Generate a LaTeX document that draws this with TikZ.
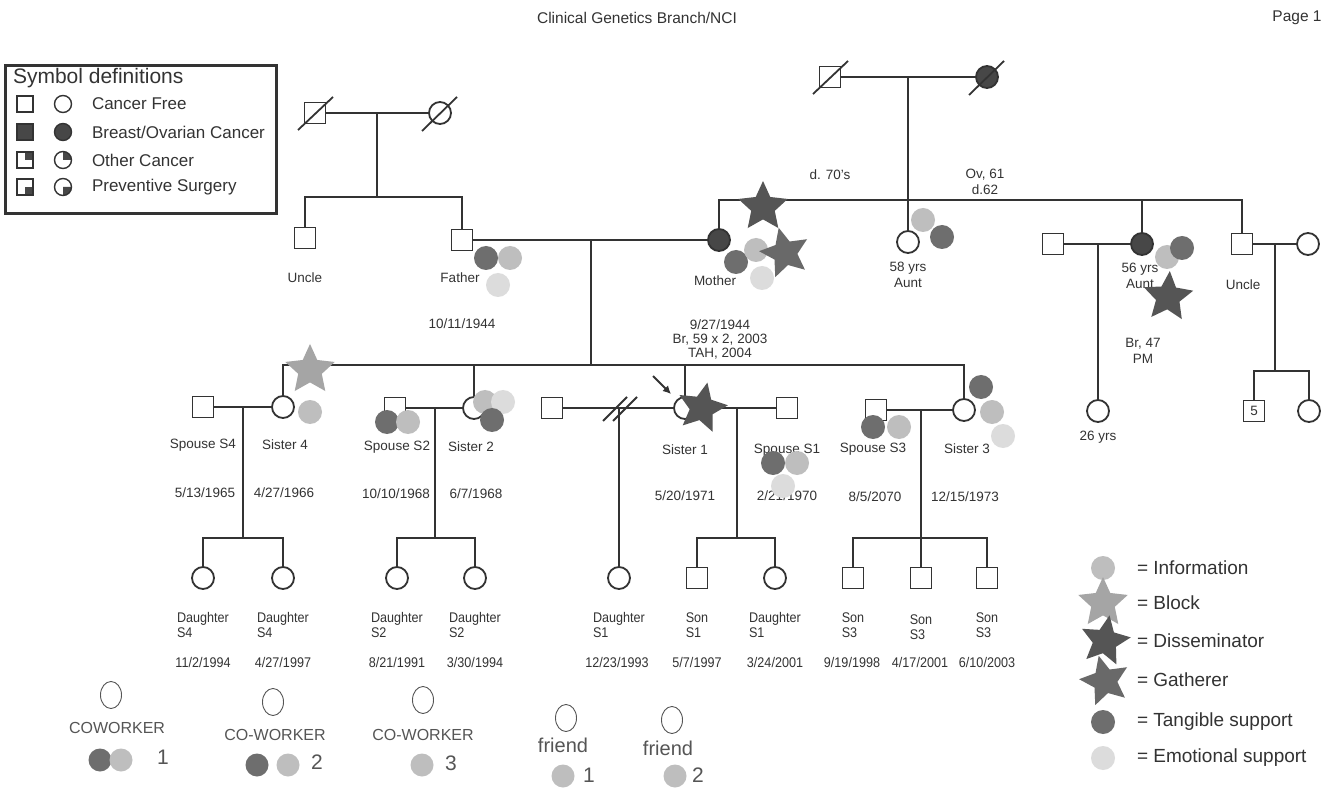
\documentclass[tikz,border=0pt]{standalone}
\usepackage{fontspec}
\setmainfont{Liberation Sans}
\newfontfamily\narrowfont[FakeStretch=0.9]{Liberation Sans}
\usetikzlibrary{shapes.geometric,arrows.meta}
\definecolor{ink}{HTML}{333333}
\definecolor{tang}{HTML}{6E6E6E}
\definecolor{infoc}{HTML}{BEBEBE}
\definecolor{emot}{HTML}{DCDCDC}
\definecolor{blockc}{HTML}{A5A5A5}
\definecolor{dissc}{HTML}{555555}
\definecolor{gathc}{HTML}{696969}
\definecolor{affc}{HTML}{474747}
\definecolor{handc}{HTML}{555555}
\begin{document}
\begin{tikzpicture}[x=1pt,y=-1pt,
  every node/.style={inner sep=0pt,outer sep=0pt},
  pline/.style={draw=ink,line width=1.4pt},
  male/.style={rectangle,draw=ink,line width=1.8pt,minimum size=21pt,fill=white},
  female/.style={circle,draw=ink,line width=1.8pt,minimum size=22pt,fill=white},
  aff/.style={fill=affc},
  dslash/.style={draw=ink,line width=1.8pt},
  lbl/.style={font=\fontsize{13.5}{15.5}\selectfont,text=ink,align=center},
  kidlbl/.style={font=\narrowfont\fontsize{14}{15}\selectfont,text=ink,align=left},
  kiddate/.style={font=\narrowfont\fontsize{14}{16}\selectfont,text=ink},
  dot/.style={circle,minimum size=24pt,draw=none},
  tdot/.style={dot,fill=tang},
  idot/.style={dot,fill=infoc},
  edot/.style={dot,fill=emot},
  bigstar/.style={star,star points=5,star point ratio=2.1,minimum size=52pt,draw=none},
  blockstar/.style={bigstar,fill=blockc},
  dissstar/.style={bigstar,fill=dissc},
  gathstar/.style={bigstar,fill=gathc},
  legsq/.style={rectangle,draw=ink,line width=1.4pt,minimum size=16pt},
  legci/.style={circle,draw=ink,line width=1.4pt,minimum size=17pt},
  legtxt/.style={anchor=west,font=\fontsize{17}{19}\selectfont,text=ink},
  keytxt/.style={anchor=west,font=\fontsize{19}{21}\selectfont,text=ink},
  handO/.style={ellipse,draw=handc,line width=0.9pt,minimum width=21pt,minimum height=27pt},
  handtxt/.style={font=\fontsize{16}{18}\selectfont,text=handc},
  handnum/.style={font=\fontsize{21}{23}\selectfont,text=handc}
]
\fill[white] (0,0) rectangle (1333,791);
\path[use as bounding box] (0,0) rectangle (1333,791);

% header
\node[font=\fontsize{15.5}{17}\selectfont,text=ink] (hdr) at (637,18) {Clinical Genetics Branch/NCI};
\node[font=\fontsize{15.5}{17}\selectfont,text=ink] (pg) at (1297,18) {Page 1};

% symbol definitions box
\node[draw=ink,line width=3pt,minimum width=271pt,minimum height=148pt] (legbox) at (141,140) {};
\node[anchor=west,font=\fontsize{21}{23}\selectfont,text=ink] (legtitle) at (13,78) {Symbol definitions};
\node[legsq] (lq1) at (25,104) {};
\node[legci] (lc1) at (63,104) {};
\node[legtxt] (lt1) at (92,104) {Cancer Free};
\node[legsq,fill=affc] (lq2) at (25,132) {};
\node[legci,fill=affc] (lc2) at (63,132) {};
\node[legtxt] (lt2) at (92,132) {Breast/Ovarian Cancer};
\fill[affc] (25,152) rectangle (33,160);
\node[legsq] (lq3) at (25,160) {};
\fill[affc] (63,160) -- ++(8.5,0) arc[start angle=0,end angle=-90,radius=8.5] -- cycle;
\node[legci] (lc3) at (63,160) {};
\node[legtxt] (lt3) at (92,160) {Other Cancer};
\fill[affc] (25,187) rectangle (33,195);
\node[legsq] (lq4) at (25,187) {};
\fill[affc] (63,187) -- ++(8.5,0) arc[start angle=0,end angle=90,radius=8.5] -- cycle;
\node[legci] (lc4) at (63,187) {};
\node[legtxt] (lt4) at (92,187) {Preventive Surgery};

% ---------- persons ----------
% paternal grandparents
\node[male] (pgf) at (315,113) {};
\node[female] (pgm) at (440,113) {};
\node[male] (u1) at (305,238) {};
\node[male] (fa) at (462,240) {};
% maternal grandparents
\node[male] (mgf) at (830,77) {};
\node[female,aff] (mgm) at (987,77) {};
\node[female,aff] (mo) at (719,240) {};
\node[female] (a58) at (908,242) {};
\node[male] (h56) at (1053,244) {};
\node[female,aff] (a56) at (1142,244) {};
\node[male] (u2) at (1242,244) {};
\node[female] (w2) at (1308,244) {};
\node[female] (c26) at (1098,411) {};
\node[male,font=\fontsize{13.5}{15}\selectfont,text=ink] (ch5) at (1254,411) {5};
\node[female] (chf) at (1309,411) {};
% sibship III
\node[male] (sp4) at (203,407) {};
\node[female] (s4) at (283,407) {};
\node[male] (sp2) at (395,408) {};
\node[female] (s2) at (474,408) {};
\node[male] (ex1) at (552,408) {};
\node[female] (s1) at (685,408) {};
\node[male] (sp1) at (787,408) {};
\node[male] (sp3) at (876,410) {};
\node[female] (s3) at (964,410) {};
% generation IV
\node[female] (d41) at (203,578) {};
\node[female] (d42) at (283,578) {};
\node[female] (d21) at (397,578) {};
\node[female] (d22) at (475,578) {};
\node[female] (d11) at (619,578) {};
\node[male] (son11) at (697,578) {};
\node[female] (d12) at (775,578) {};
\node[male] (son31) at (853,578) {};
\node[male] (son32) at (921,578) {};
\node[male] (son33) at (987,578) {};

% ---------- coordinates ----------
\coordinate (pgc) at (377,113);
\coordinate (psib) at (377,197);
\coordinate (psL) at (305,197);
\coordinate (psR) at (462,197);
\coordinate (mgc) at (908,77);
\coordinate (msL) at (719,200);
\coordinate (msR) at (1242,200);
\coordinate (ms56) at (1142,200);
\coordinate (fmc) at (591,240);
\coordinate (sib3) at (591,365);
\coordinate (s3L) at (283,365);
\coordinate (s3R) at (964,365);
\coordinate (s2top) at (474,365);
\coordinate (s1top) at (685,365);
\coordinate (c56) at (1098,244);
\coordinate (cu2) at (1275,244);
\coordinate (cu2s) at (1275,371);
\coordinate (u2kL) at (1254,371);
\coordinate (u2kR) at (1309,371);
\coordinate (c4) at (243,407);
\coordinate (c4s) at (243,538);
\coordinate (k4L) at (203,538);
\coordinate (k4R) at (283,538);
\coordinate (c2) at (435,408);
\coordinate (c2s) at (435,538);
\coordinate (k2L) at (397,538);
\coordinate (k2R) at (475,538);
\coordinate (cx) at (619,408);
\coordinate (c1) at (737,408);
\coordinate (c1s) at (737,538);
\coordinate (k1L) at (697,538);
\coordinate (k1R) at (775,538);
\coordinate (c3) at (921,410);
\coordinate (c3s) at (921,538);
\coordinate (k3L) at (853,538);
\coordinate (k3R) at (987,538);
\coordinate (arrS) at (653,376);
\coordinate (arrE) at (671,394);

% ---------- lines ----------
\draw[pline] (pgf) -- (pgm);
\draw[pline] (pgc) -- (psib);
\draw[pline] (u1.north) -- (psL) -- (psR) -- (fa.north);
\draw[pline] (mgf) -- (mgm);
\draw[pline] (mgc) -- (a58.north);
\draw[pline] (mo.north) -- (msL) -- (msR) -- (u2.north);
\draw[pline] (ms56) -- (a56.north);
\draw[pline] (fa) -- (mo);
\draw[pline] (fmc) -- (sib3);
\draw[pline] (s4.north) -- (s3L) -- (s3R) -- (s3.north);
\draw[pline] (s2top) -- (s2.north);
\draw[pline] (s1top) -- (s1.north);
\draw[pline] (h56) -- (a56);
\draw[pline] (c56) -- (c26.north);
\draw[pline] (u2) -- (w2);
\draw[pline] (cu2) -- (cu2s);
\draw[pline] (ch5.north) -- (u2kL) -- (u2kR) -- (chf.north);
\draw[pline] (sp4) -- (s4);
\draw[pline] (c4) -- (c4s);
\draw[pline] (d41.north) -- (k4L) -- (k4R) -- (d42.north);
\draw[pline] (sp2) -- (s2);
\draw[pline] (c2) -- (c2s);
\draw[pline] (d21.north) -- (k2L) -- (k2R) -- (d22.north);
\draw[pline] (ex1) -- (s1);
\draw[pline] (cx) -- (d11.north);
\draw[pline] (s1) -- (sp1);
\draw[pline] (c1) -- (c1s);
\draw[pline] (son11.north) -- (k1L) -- (k1R) -- (d12.north);
\draw[pline] (sp3) -- (s3);
\draw[pline] (c3) -- (c3s);
\draw[pline] (son31.north) -- (k3L) -- (k3R) -- (son33.north);
\draw[pline] (c3s) -- (son32.north);
% divorce slashes
\draw[dslash] ([shift={(-16,13)}]cx) -- ([shift={(8,-11)}]cx);
\draw[dslash] ([shift={(-6,13)}]cx) -- ([shift={(18,-11)}]cx);
% deceased slashes
\draw[dslash] ([shift={(-17,17)}]pgf.center) -- ([shift={(18,-16)}]pgf.center);
\draw[dslash] ([shift={(-18,18)}]pgm.center) -- ([shift={(17,-16)}]pgm.center);
\draw[dslash] ([shift={(-17,17)}]mgf.center) -- ([shift={(18,-16)}]mgf.center);
\draw[dslash] ([shift={(-18,18)}]mgm.center) -- ([shift={(17,-16)}]mgm.center);
% proband arrow
\draw[draw=ink,line width=1.8pt,-{Latex[length=8pt,width=8pt]}] (arrS) -- (arrE);

% ---------- labels ----------
\node[lbl] (lu1) at (305,278) {Uncle};
\node[lbl] (lfa) at (460,278) {Father};
\node[lbl] (lfad) at (462,324) {10/11/1944};
\node[lbl] (lmo) at (715,281) {Mother};
\node[lbl] (lmod) at (720,339) {9/27/1944\\[-1.5pt]Br, 59 x 2, 2003\\[-1.5pt]TAH, 2004};
\node[lbl] (la58) at (908,275) {58 yrs\\Aunt};
\node[lbl] (lmgf) at (830,175) {d. 70's};
\node[lbl] (lmgm) at (985,182) {Ov, 61\\d.62};
\node[lbl] (la56) at (1140,276) {56 yrs\\Aunt};
\node[lbl] (la56d) at (1143,351) {Br, 47\\PM};
\node[lbl] (lu2) at (1243,285) {Uncle};
\node[lbl] (lc26) at (1098,437) {26 yrs};
\node[lbl] (lsp4) at (203,445) {Spouse S4};
\node[lbl] (ls4) at (285,445) {Sister 4};
\node[lbl] (lsp2) at (397,447) {Spouse S2};
\node[lbl] (ls2) at (471,447) {Sister 2};
\node[lbl] (ls1) at (685,450) {Sister 1};
\node[lbl] (lsp1) at (787,450) {Spouse S1};
\node[lbl] (lsp3) at (873,449) {Spouse S3};
\node[lbl] (ls3) at (967,449) {Sister 3};
\node[lbl] (dsp4) at (205,493) {5/13/1965};
\node[lbl] (ds4) at (284,493) {4/27/1966};
\node[lbl] (dsp2) at (396,494) {10/10/1968};
\node[lbl] (ds2) at (476,494) {6/7/1968};
\node[lbl] (ds1) at (685,496) {5/20/1971};
\node[lbl] (dsp1) at (787,496) {2/21/1970};
\node[lbl] (dsp3) at (875,497) {8/5/2070};
\node[lbl] (ds3) at (965,497) {12/15/1973};
% generation IV labels
\node[kidlbl] (ld41) at (203,625) {Daughter\\S4};
\node[kidlbl] (ld42) at (283,625) {Daughter\\S4};
\node[kidlbl] (ld21) at (397,625) {Daughter\\S2};
\node[kidlbl] (ld22) at (475,625) {Daughter\\S2};
\node[kidlbl] (ld11) at (619,625) {Daughter\\S1};
\node[kidlbl] (lson11) at (697,625) {Son\\S1};
\node[kidlbl] (ld12) at (775,625) {Daughter\\S1};
\node[kidlbl] (lson31) at (853,625) {Son\\S3};
\node[kidlbl] (lson32) at (921,627) {Son\\S3};
\node[kidlbl] (lson33) at (987,625) {Son\\S3};
\node[kiddate] (dd41) at (203,662) {11/2/1994};
\node[kiddate] (dd42) at (283,662) {4/27/1997};
\node[kiddate] (dd21) at (397,662) {8/21/1991};
\node[kiddate] (dd22) at (475,662) {3/30/1994};
\node[kiddate] (dd11) at (617,662) {12/23/1993};
\node[kiddate] (dson11) at (697,662) {5/7/1997};
\node[kiddate] (dd12) at (775,662) {3/24/2001};
\node[kiddate] (dson31) at (852,662) {9/19/1998};
\node[kiddate] (dson32) at (920,662) {4/17/2001};
\node[kiddate] (dson33) at (987,662) {6/10/2003};

% ---------- communication markers ----------
% father
\node[tdot] (fa1) at (486,258) {};
\node[idot] (fa2) at (510,258) {};
\node[edot] (fa3) at (498,285) {};
% mother
\node[dissstar] (mo0) at (763,207) {};
\node[tdot] (mo1) at (736,262) {};
\node[idot] (mo2) at (756,250) {};
\node[edot] (mo3) at (762,278) {};
\node[gathstar,rotate=14] (mo4) at (785,253) {};
% aunt 58
\node[idot] (a581) at (923,220) {};
\node[tdot] (a582) at (942,237) {};
% aunt 56
\node[idot] (a561) at (1167,257) {};
\node[tdot] (a562) at (1182,248) {};
\node[dissstar,rotate=-4] (a563) at (1168,297) {};
% sister 4
\node[blockstar] (s4a) at (310,370) {};
\node[idot] (s4b) at (310,412) {};
% spouse S2
\node[tdot] (sp2a) at (387,422) {};
\node[idot] (sp2b) at (408,422) {};
% sister 2
\node[idot] (s2a) at (485,402) {};
\node[edot] (s2b) at (503,402) {};
\node[tdot] (s2c) at (492,420) {};
% sister 1
\node[dissstar,rotate=-12] (s1a) at (702,408) {};
% spouse S1
\node[tdot] (sp1a) at (773,463) {};
\node[idot] (sp1b) at (797,463) {};
\node[edot] (sp1c) at (783,486) {};
% spouse S3
\node[tdot] (sp3a) at (873,427) {};
\node[idot] (sp3b) at (899,427) {};
% sister 3
\node[tdot] (s3a) at (981,387) {};
\node[idot] (s3b) at (992,412) {};
\node[edot] (s3c) at (1003,436) {};

% ---------- key (right) ----------
\node[idot] (k1) at (1103,568) {};
\node[keytxt] (kt1) at (1137,568) {= Information};
\node[blockstar] (k2) at (1103,603) {};
\node[keytxt] (kt2) at (1137,603) {= Block};
\node[dissstar,rotate=-10] (k3) at (1105,641) {};
\node[keytxt] (kt3) at (1137,641) {= Disseminator};
\node[gathstar,rotate=14] (k4) at (1105,681) {};
\node[keytxt] (kt4) at (1137,680) {= Gatherer};
\node[tdot] (k5) at (1103,722) {};
\node[keytxt] (kt5) at (1137,722) {= Tangible support};
\node[edot] (k6) at (1103,758) {};
\node[keytxt] (kt6) at (1137,758) {= Emotional support};

% ---------- handwritten contacts ----------
\node[handO] (cw1o) at (111,695) {};
\node[handtxt] (cw1t) at (117,728) {COWORKER};
\node[tdot,minimum size=23pt] (cw1a) at (100,760) {};
\node[idot,minimum size=23pt] (cw1b) at (121,760) {};
\node[handnum] (cw1n) at (163,757) {1};
\node[handO] (cw2o) at (273,702) {};
\node[handtxt] (cw2t) at (275,735) {CO-WORKER};
\node[tdot,minimum size=23pt] (cw2a) at (257,765) {};
\node[idot,minimum size=23pt] (cw2b) at (288,765) {};
\node[handnum] (cw2n) at (317,762) {2};
\node[handO] (cw3o) at (423,700) {};
\node[handtxt] (cw3t) at (423,735) {CO-WORKER};
\node[idot,minimum size=23pt] (cw3a) at (422,765) {};
\node[handnum] (cw3n) at (451,763) {3};
\node[handO] (fr1o) at (566,718) {};
\node[handtxt,font=\fontsize{20}{22}\selectfont] (fr1t) at (563,745) {friend};
\node[idot,minimum size=23pt] (fr1a) at (563,776) {};
\node[handnum] (fr1n) at (589,775) {1};
\node[handO] (fr2o) at (672,720) {};
\node[handtxt,font=\fontsize{20}{22}\selectfont] (fr2t) at (668,748) {friend};
\node[idot,minimum size=23pt] (fr2a) at (675,776) {};
\node[handnum] (fr2n) at (698,775) {2};
\end{tikzpicture}
\end{document}
